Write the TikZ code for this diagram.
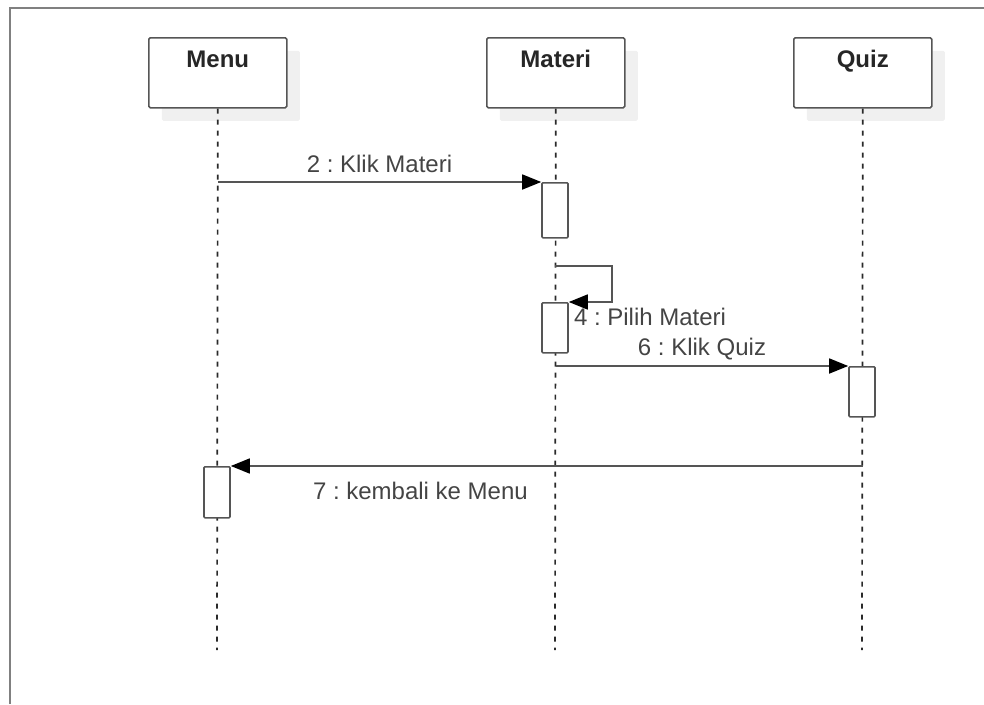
\documentclass[tikz,border=0pt]{standalone}
\usepackage{fontspec}
\setmainfont{Liberation Sans}
\frenchspacing
\usetikzlibrary{arrows.meta,positioning,shadows}
\definecolor{linegray}{HTML}{555555}
\definecolor{lifegray}{HTML}{2A2A2A}
\definecolor{framegray}{HTML}{808080}
\definecolor{shadowgray}{HTML}{F0F0F0}
\definecolor{textdark}{HTML}{262626}
\definecolor{textgray}{HTML}{444444}

\begin{document}
\begin{tikzpicture}[x=1pt, y=-1pt,
  head/.style={draw=linegray, line width=1.6pt, rounded corners=1.5pt, fill=white,
    minimum width=138pt, minimum height=70pt, anchor=north west, inner sep=0pt,
    drop shadow={shadow xshift=13pt, shadow yshift=-13pt, fill=shadowgray, opacity=1}},
  headtext/.style={font=\bfseries\fontsize{24}{28}\selectfont, text=textdark, anchor=base},
  life/.style={draw=lifegray, line width=1.7pt, dash pattern=on 5pt off 6pt},
  act/.style={draw=linegray, line width=1.6pt, rounded corners=1pt, fill=white,
    minimum width=26pt, anchor=north, inner sep=0pt},
  msg/.style={draw=linegray, line width=1.6pt, ->},
  lbl/.style={font=\fontsize{24}{28}\selectfont, text=textgray, inner sep=2pt},
  >={Triangle[length=19pt,width=15pt,color=black]}]
\useasboundingbox (0,0) rectangle (984,704);
\draw[framegray, line width=2pt] (10,704) -- (10,8) -- (984,8);
% lifeline heads
\node[head] (menu) at (148,37) {};
\node[head] (materi) at (486,37) {};
\node[head] (quiz) at (793,37) {};
\node[headtext] at ([yshift=-30pt]menu.north) {Menu};
\node[headtext] at ([yshift=-30pt]materi.north) {Materi};
\node[headtext] at ([yshift=-30pt]quiz.north) {Quiz};
% lifelines
\coordinate (menuend) at (217,650);
\coordinate (materiend) at (555,650);
\coordinate (quizend) at (862,650);
\draw[life] (menu.south) -- (menuend);
\draw[life] (materi.south) -- (materiend);
\draw[life] (quiz.south) -- (quizend);
% activations
\node[act, minimum height=55pt] (materiact1) at (555,182) {};
\node[act, minimum height=50pt] (materiact2) at (555,302) {};
\node[act, minimum height=50pt] (quizact) at (862,366) {};
\node[act, minimum height=51pt] (menuact) at (217,466) {};
% messages
\draw[msg] (menu |- materiact1.north west) -- (materiact1.north west)
  node[lbl, midway, anchor=base, yshift=10pt] {2 : Klik Materi};
\coordinate (loopstart) at (555,266);
\draw[msg] (loopstart) -- ++(57,0) |- (materiact2.north east);
\node[lbl, anchor=base west] (lblpilih) at ([xshift=3pt,yshift=-23pt]materiact2.north east) {4 : Pilih Materi};
\draw[msg] (materi |- quizact.north west) -- (quizact.north west)
  node[lbl, midway, anchor=base, yshift=11pt] {6 : Klik Quiz};
\draw[msg] (quiz |- menuact.north east) -- (menuact.north east)
  node[lbl, pos=0.7, anchor=base, yshift=-33pt] {7 : kembali ke Menu};
\end{tikzpicture}
\end{document}
